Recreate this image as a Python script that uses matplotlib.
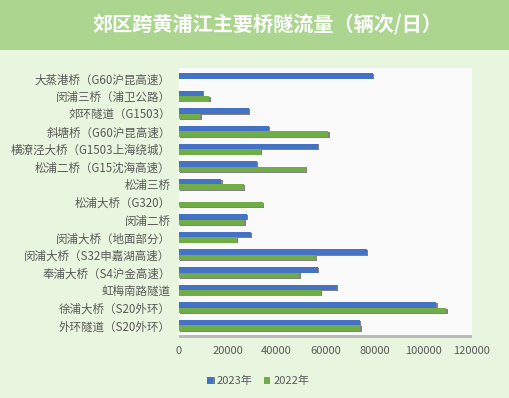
import numpy as np
import matplotlib.pyplot as plt
import matplotlib.patheffects as pe
from matplotlib.patches import Rectangle

plt.rcParams['font.family'] = ['Noto Sans CJK SC', 'DejaVu Sans']

# data
bridges = ['大蒸港桥（G60沪昆高速）', '闵浦三桥（浦卫公路）', '郊环隧道（G1503）',
           '斜塘桥（G60沪昆高速）', '横潦泾大桥（G1503上海绕城）', '松浦二桥（G15沈海高速）',
           '松浦三桥', '松浦大桥（G320）', '闵浦二桥', '闵浦大桥（地面部分）',
           '闵浦大桥（S32申嘉湖高速）', '奉浦大桥（S4沪金高速）', '虹梅南路隧道',
           '徐浦大桥（S20外环）', '外环隧道（S20外环）']
flow_2023 = [79300, 9800, 28600, 36900, 56800, 31800, 17400, 0, 27800, 29500,
             76900, 56800, 64600, 105400, 74100]
flow_2022 = [0, 12400, 8700, 61100, 33600, 52000, 26600, 34300, 26700, 23700,
             56100, 49200, 58200, 109400, 74200]

fig = plt.figure(figsize=(5.09, 3.98), dpi=100)
fig.patch.set_facecolor('#e9f6df')
fig.patches.append(Rectangle((0, 1 - 50 / 398), 1, 50 / 398, transform=fig.transFigure,
                             facecolor='#acd590', edgecolor='none', zorder=0))
fig.text(0.525, 1 - 24 / 398, '郊区跨黄浦江主要桥隧流量（辆次/日）', color='white',
         fontsize=14.5, fontweight='bold', ha='center', va='center')

ax = fig.add_axes([179 / 509, 1 - 335 / 398, (472 - 179) / 509, (335 - 68) / 398])
ax.set_facecolor('#fafafa')
ax.patch.set_path_effects([pe.SimplePatchShadow(offset=(0, -2), shadow_rgbFace='#bbbbbb', alpha=1),
                           pe.Normal()])

y = np.arange(len(bridges))
h = 0.31
shadow = [pe.SimplePatchShadow(offset=(1, -0.5), shadow_rgbFace='#333333', alpha=0.6), pe.Normal()]
b1 = ax.barh(y - h / 2, flow_2023, height=h, color='#4472c4', label='2023年')
b2 = ax.barh(y + h / 2, flow_2022, height=h, color='#70ad47', label='2022年')
for b in list(b1) + list(b2):
    if b.get_width() > 0:
        b.set_path_effects(shadow)

ax.set_xlim(0, 120000)
ax.set_ylim(len(bridges) - 0.46, -0.6)
ax.set_xticks(np.arange(0, 120001, 20000))
ax.set_yticks(y)
ax.set_yticklabels(bridges, fontsize=8.3)
for s in ax.spines.values():
    s.set_visible(False)
ax.tick_params(length=0, colors='#595959')
ax.tick_params(axis='x', pad=8, labelsize=8)
ax.tick_params(axis='y', pad=6)

ax.legend(loc='upper center', bbox_to_anchor=(0.27, -0.115), ncol=2, frameon=False,
          fontsize=8, labelcolor='#595959', handlelength=0.6, handleheight=0.6,
          handletextpad=0.3, columnspacing=1.0)

fig.savefig('out.png', dpi=100, facecolor=fig.get_facecolor())
